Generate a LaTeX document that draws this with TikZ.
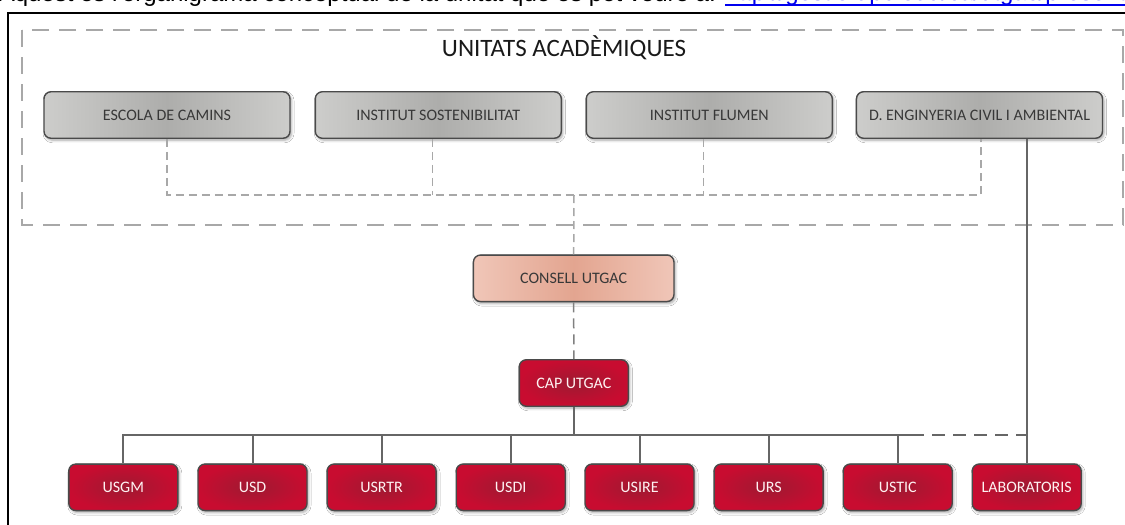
\documentclass[tikz,border=0pt]{standalone}
\usepackage{fontspec}
\setmainfont{Carlito}
\newfontfamily\arialfont{Liberation Sans}
\usetikzlibrary{shadows.blur,calc}
\definecolor{grayL}{HTML}{CDCDCB}
\definecolor{grayM}{HTML}{ADADAB}
\definecolor{salL}{HTML}{F0C6B8}
\definecolor{salM}{HTML}{E3A590}
\definecolor{redOut}{HTML}{C80C30}
\definecolor{redIn}{HTML}{9E1A32}
\definecolor{edge}{HTML}{4A4A4A}
\definecolor{dgray}{HTML}{A8A8A8}
\definecolor{lgray}{HTML}{666666}
\definecolor{linkblue}{HTML}{0000EE}
\tikzset{
  box/.style={rounded corners=7pt, draw=edge, line width=1.4pt, inner sep=0pt,
    minimum height=46.5pt, font=\fontsize{16}{19}\selectfont,
    blur shadow={shadow xshift=1.5pt, shadow yshift=-2pt, shadow blur radius=2.5pt, shadow opacity=35}},
  unitbox/.style={box, minimum width=246pt, left color=grayL, right color=grayL, middle color=grayM, text=black!78},
  consbox/.style={box, minimum width=200.5pt, left color=salL, right color=salL, middle color=salM, text=black!78},
  redbox/.style={box, minimum width=109pt, inner color=redIn, outer color=redOut, text=white!95!red},
  dconn/.style={draw=dgray, line width=1.5pt, dash pattern=on 8pt off 5pt},
  outerdash/.style={draw=dgray, line width=1.7pt, dash pattern=on 17pt off 10pt},
  cdash/.style={draw=black!50, line width=1.5pt, dash pattern=on 10pt off 6pt},
  sconn/.style={draw=lgray, line width=2pt},
  busdash/.style={draw=lgray, line width=2pt, dash pattern=on 13pt off 8pt}
}
\begin{document}
\begin{tikzpicture}[x=1pt,y=-1pt]
\useasboundingbox (0,0) rectangle (1125,525);
\fill[white] (0,0) rectangle (1125,525);
% clipped header line (cut off at the top edge, as in the reference)
\begin{scope}
\clip (0,0) rectangle (1125,525);
\node[anchor=base east, inner sep=0pt, font=\arialfont\fontsize{24}{28}\selectfont] (toptext) at (716,1.5) {Aquest és l'organigrama conceptual de la unitat que es pot veure a:};
\node[anchor=base west, inner sep=0pt, text=linkblue, font=\arialfont\fontsize{24}{28}\selectfont] (link) at (725,0.5) {http://gestio.upc.edu/ca/utgac/presentacio};
\coordinate (ulA) at (725,4.5);
\coordinate (ulB) at (1125,4.5);
\draw[linkblue, line width=2pt] (ulA) -- (ulB);
\end{scope}
% black frame
\coordinate (fA) at (8,525);
\coordinate (fB) at (8,12.5);
\coordinate (fC) at (1125,12.5);
\draw[black, line width=2pt] (fA) -- (fB) -- (fC);
% outer dashed group
\coordinate (gA) at (22,30);
\coordinate (gB) at (1123,225);
\draw[outerdash] (gA) rectangle (gB);
\node[font=\fontsize{25}{29}\selectfont, text=black!90, inner sep=0pt] (title) at (564,48) {UNITATS ACADÈMIQUES};
% unit boxes
\node[unitbox] (b1) at (167,115) {ESCOLA DE CAMINS};
\node[unitbox] (b2) at (438.3,115) {INSTITUT SOSTENIBILITAT};
\node[unitbox] (b3) at (709.3,115) {INSTITUT FLUMEN};
\node[unitbox] (b4) at (979.5,115) {D. ENGINYERIA CIVIL I AMBIENTAL};
% central nodes
\node[consbox] (cons) at (573.7,278.3) {CONSELL UTGAC};
\node[redbox] (cap) at (573.8,383) {CAP UTGAC};
% bottom units
\node[redbox] (u1) at (123.3,487.3) {USGM};
\node[redbox] (u2) at (252.5,487.3) {USD};
\node[redbox] (u3) at (381.6,487.3) {USRTR};
\node[redbox] (u4) at (510.7,487.3) {USDI};
\node[redbox] (u5) at (639.5,487.3) {USIRE};
\node[redbox] (u6) at (768.6,487.3) {URS};
\node[redbox] (u7) at (897.7,487.3) {USTIC};
\node[redbox] (u8) at (1026.7,487.3) {LABORATORIS};
% dashed connectors of the academic units
\coordinate (j) at (574,195);
\draw[dconn] (b1.south) |- (j) -| ([xshift=1.5pt]b4.south);
\draw[dconn] ([xshift=-5.6pt]b2.south) -- ([xshift=-5.6pt]b2.south |- j);
\draw[dconn] ([xshift=-6pt]b3.south) -- ([xshift=-6pt]b3.south |- j);
\draw[dconn] (j) -- (cons.north);
\draw[cdash] (cons.south) -- (cap.north);
% bus
\coordinate (bus) at (573.8,435);
\coordinate (busend) at (911,435);
\draw[sconn] (cap.south) -- (bus);
\draw[sconn] (u1.north) |- (busend);
\foreach \u in {u2,u3,u4,u5,u6,u7}{
  \draw[sconn] (\u.north) -- (\u.north |- bus);
}
\draw[busdash] (busend) -- (u8.north |- bus);
\draw[sconn] (u8.north |- b4.south) -- (u8.north);
\end{tikzpicture}
\end{document}
